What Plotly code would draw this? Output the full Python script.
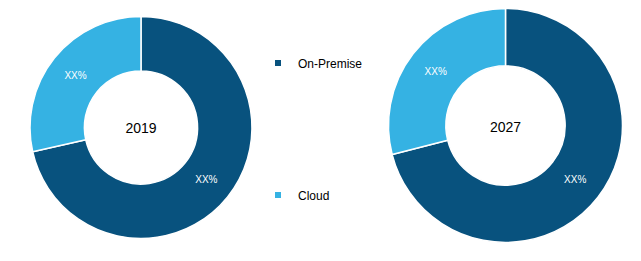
import plotly.graph_objects as go

categories = ["On-Premise", "Cloud"]
values_2019 = [71.5, 28.5]
values_2027 = [71, 29]
years = ["2019", "2027"]
slice_labels = ["XX%", "XX%"]
colors = ["#08527E", "#35B2E3"]

W, H = 641, 261

fig = go.Figure()

domains = [
    dict(x=[0.0468, 0.3931], y=[0.0862, 0.9368]),
    dict(x=[0.6061, 0.9711], y=[0.0709, 0.9674]),
]

for vals, yr, dom in zip([values_2019, values_2027], years, domains):
    fig.add_trace(go.Pie(
        labels=categories,
        values=vals,
        text=slice_labels,
        textinfo="text",
        textposition="inside",
        insidetextorientation="horizontal",
        textfont=dict(family="Liberation Sans, Arial, sans-serif", size=10, color="white"),
        hole=0.51,
        sort=False,
        direction="clockwise",
        rotation=0,
        marker=dict(colors=colors, line=dict(color="white", width=1.5)),
        domain=dom,
        showlegend=False,
        hoverinfo="label+percent",
        title=dict(text=yr, position="middle center",
                   font=dict(family="Liberation Sans, Arial, sans-serif", size=14, color="black")),
    ))

# Legend entries
legend_names = ["legend", "legend2"]
for cat, col, lg in zip(categories, colors, legend_names):
    fig.add_trace(go.Scatter(
        x=[None], y=[None], mode="markers", name=cat,
        marker=dict(symbol="square", size=6, color=col),
        showlegend=True, legend=lg, hoverinfo="skip",
    ))

legend_font = dict(family="Liberation Sans, Arial, sans-serif", size=12, color="black")
lx = 258 / W
fig.update_layout(
    width=W, height=H,
    margin=dict(l=0, r=0, t=0, b=0),
    paper_bgcolor="white",
    plot_bgcolor="white",
    xaxis=dict(visible=False),
    yaxis=dict(visible=False),
    legend=dict(x=lx, y=1 - 63 / H, xanchor="left", yanchor="middle",
                font=legend_font, bgcolor="rgba(0,0,0,0)", itemwidth=30),
    legend2=dict(x=lx, y=1 - 195 / H, xanchor="left", yanchor="middle",
                 font=legend_font, bgcolor="rgba(0,0,0,0)", itemwidth=30),
)

fig.write_html("out.html")
